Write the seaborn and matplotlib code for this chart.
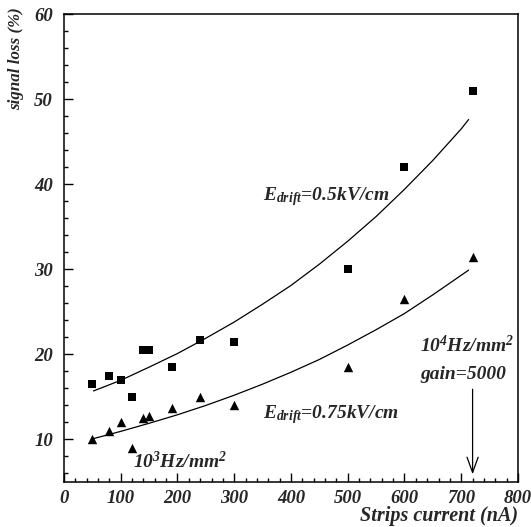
import numpy as np
import pandas as pd
import matplotlib
matplotlib.use("Agg")
import matplotlib.pyplot as plt
from matplotlib.ticker import MultipleLocator
import seaborn as sns

current = [50, 80, 100, 120, 140, 150, 190, 240, 300, 500, 600, 720]
loss_05 = [16.5, 17.5, 17.0, 15.0, 20.5, 20.5, 18.5, 21.7, 21.5, 30.0, 42.0, 51.0]
loss_075 = [10.0, 11.0, 12.0, 9.0, 12.5, 12.7, 13.7, 15.0, 14.0, 18.5, 26.5, 31.5]

# fit curves, sampled along the drawn lines
fit_x = [52, 100, 150, 200, 250, 300, 350, 400, 450, 500, 550, 600, 650, 700, 713]
fit_05 = [15.7, 16.95, 18.5, 20.1, 21.9, 23.8, 25.9, 28.1, 30.6, 33.3, 36.2,
          39.4, 42.8, 46.5, 47.6]
fit_075 = [10.1, 10.95, 11.9, 12.9, 14.0, 15.2, 16.5, 17.9, 19.4, 21.1, 22.9,
           24.8, 27.0, 29.3, 29.9]

sns.set_style("ticks")
plt.rcParams["font.family"] = ["Liberation Serif", "DejaVu Serif"]
plt.rcParams["font.weight"] = "bold"
plt.rcParams["font.style"] = "italic"
plt.rcParams["axes.labelweight"] = "bold"
plt.rcParams["mathtext.fontset"] = "custom"
plt.rcParams["mathtext.rm"] = "Liberation Serif:bold:italic"
plt.rcParams["mathtext.it"] = "Liberation Serif:bold:italic"
plt.rcParams["mathtext.bf"] = "Liberation Serif:bold:italic"

font = dict(family="Liberation Serif", weight="bold", style="italic")

pts = pd.DataFrame({"x": current, "a": loss_05, "b": loss_075})
fits = pd.DataFrame({"x": fit_x, "a": fit_05, "b": fit_075})

fig = plt.figure(figsize=(5.31, 5.27), dpi=100)
ax = fig.add_axes([0.1205, 0.0854, 0.855, 0.888])

sns.lineplot(data=fits, x="x", y="a", ax=ax, color="black", linewidth=0.9)
sns.lineplot(data=fits, x="x", y="b", ax=ax, color="black", linewidth=0.9)
sns.scatterplot(data=pts, x="x", y="a", ax=ax, marker="s", s=38,
                color="black", edgecolor="black", linewidth=0, zorder=3)
sns.scatterplot(data=pts, x="x", y="b", ax=ax, marker="^", s=46,
                color="black", edgecolor="black", linewidth=0, zorder=3)

ax.set_xlim(0, 800)
ax.set_ylim(5, 60)
ax.xaxis.set_major_locator(MultipleLocator(100))
ax.xaxis.set_minor_locator(MultipleLocator(20))
ax.yaxis.set_major_locator(MultipleLocator(10))
ax.yaxis.set_minor_locator(MultipleLocator(2))
ax.tick_params(which="both", direction="in", top=False, right=False,
               width=1, color="black")
ax.tick_params(which="major", length=6.5)
ax.tick_params(axis="x", which="major", pad=5.5)
ax.tick_params(axis="y", which="major", pad=8)
ax.tick_params(which="minor", length=3)
for lab in ax.get_xticklabels() + ax.get_yticklabels():
    lab.set_fontproperties(dict(font, size=13.5))
for sp in ax.spines.values():
    sp.set_visible(True)
    sp.set_linewidth(1.1)
    sp.set_color("black")

ax.set_xlabel("Strips current (nA)", fontdict=dict(font, size=14.5), loc="right")
ax.xaxis.set_label_coords(1.0, -0.052)
ax.set_ylabel("signal loss (%)", fontdict=dict(font, size=12.2), loc="top")
ax.yaxis.set_label_coords(-0.088, 1.015)

ax.text(350, 38.5, r"$E_{drift}$=0.5kV/cm", fontdict=dict(font, size=14), va="center")
ax.text(350, 12.9, r"$E_{drift}$=0.75kV/cm", fontdict=dict(font, size=14), va="center")
ax.text(121, 7.4, r"10$^3$Hz/mm$^2$", fontdict=dict(font, size=14), va="center")
ax.text(628, 21.1, r"10$^4$Hz/mm$^2$", fontdict=dict(font, size=14),
        va="center", clip_on=False)
ax.text(628, 17.6, "gain=5000", fontdict=dict(font, size=14), va="center")
ax.annotate("", xy=(720, 5.9), xytext=(720, 15.9),
            arrowprops=dict(arrowstyle="->,head_length=1.1,head_width=0.4",
                            color="black", lw=0.9, shrinkA=0, shrinkB=0))

fig.savefig("out.png", dpi=100)
